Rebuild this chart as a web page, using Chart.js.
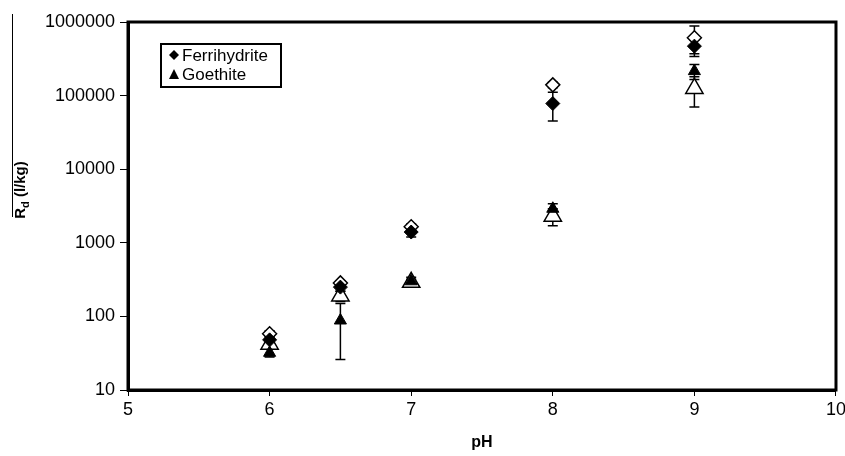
<!DOCTYPE html>
<html>
<head>
<meta charset="utf-8">
<script src="https://cdn.jsdelivr.net/npm/chart.js@4"></script>
<style>
  html, body { margin: 0; padding: 0; background: #fff; overflow: hidden; }
  canvas { display: block; }
</style>
</head>
<body>
<canvas id="chart" width="849" height="456"></canvas>
<script>
// pH values and Rd (l/kg) for each sorbent
const pH = [6, 6.5, 7, 8, 9];
const ferriFilled = [48, 250, 1400, 78000, 470000];
const ferriFilledErr = [6, 30, 200, 33000, 100000];
const ferriOpen = [58, 285, 1650, 140000, 610000];
const ferriOpenErr = [6, 20, 150, 12000, 270000];
const goeFilled = [32, 88, 300, 2900, 215000];
const goeFilledErr = [4, 62, 40, 500, 50000];
const goeOpen = [42, 190, 290, 2300, 125000];
const goeOpenErr = [5, 30, 30, 600, 55000];
const yTicks = [10, 100, 1000, 10000, 100000, 1000000];

const font = 'Arial, "Liberation Sans", sans-serif';

function pts(vals, errs) {
  return pH.map((x, i) => ({ x: x, y: vals[i], err: errs[i] }));
}

// vertical error bars with caps
const errorBars = {
  id: 'errorBars',
  beforeDatasetsDraw(chart) {
    const ctx = chart.ctx;
    const xs = chart.scales.x, ys = chart.scales.y;
    ctx.save();
    ctx.strokeStyle = '#000';
    ctx.lineWidth = 1.5;
    chart.data.datasets.forEach(ds => {
      ds.data.forEach(p => {
        if (!p.err) return;
        const px = xs.getPixelForValue(p.x);
        const top = ys.getPixelForValue(p.y + p.err);
        const bot = ys.getPixelForValue(Math.max(p.y - p.err, 1));
        ctx.beginPath();
        ctx.moveTo(px, top); ctx.lineTo(px, bot);
        ctx.moveTo(px - 5, top); ctx.lineTo(px + 5, top);
        ctx.moveTo(px - 5, bot); ctx.lineTo(px + 5, bot);
        ctx.stroke();
      });
    });
    ctx.restore();
  }
};

// frame, y title with subscript and the legend box
const decorations = {
  id: 'decorations',
  afterDraw(chart) {
    const ctx = chart.ctx;
    const a = chart.chartArea;
    ctx.save();
    ctx.strokeStyle = '#000';
    ctx.lineWidth = 3;
    ctx.strokeRect(a.left, a.top, a.right - a.left, a.bottom - a.top);

    // y axis title
    ctx.save();
    ctx.translate(25, 190);
    ctx.rotate(-Math.PI / 2);
    ctx.fillStyle = '#000';
    ctx.textBaseline = 'alphabetic';
    ctx.font = 'bold 15px ' + font;
    const w1 = ctx.measureText('R').width;
    ctx.font = 'bold 11px ' + font;
    const w2 = ctx.measureText('d').width;
    ctx.font = 'bold 15px ' + font;
    const w3 = ctx.measureText(' (l/kg)').width;
    let x0 = -(w1 + w2 + w3) / 2;
    ctx.fillText('R', x0, 0);
    ctx.font = 'bold 11px ' + font;
    ctx.fillText('d', x0 + w1, 4);
    ctx.font = 'bold 15px ' + font;
    ctx.fillText(' (l/kg)', x0 + w1 + w2, 0);
    ctx.restore();
    ctx.lineWidth = 1;
    ctx.beginPath();
    ctx.moveTo(12.5, 14); ctx.lineTo(12.5, 217);
    ctx.stroke();

    // legend
    ctx.lineWidth = 2;
    ctx.strokeRect(161, 44, 120, 43);
    ctx.fillStyle = '#000';
    ctx.font = '17px ' + font;
    ctx.textBaseline = 'middle';
    ctx.beginPath();
    ctx.moveTo(174, 50); ctx.lineTo(179, 55); ctx.lineTo(174, 60); ctx.lineTo(169, 55);
    ctx.closePath(); ctx.fill();
    ctx.fillText('Ferrihydrite', 182, 56);
    ctx.beginPath();
    ctx.moveTo(174, 69); ctx.lineTo(179, 79); ctx.lineTo(169, 79);
    ctx.closePath(); ctx.fill();
    ctx.fillText('Goethite', 182, 75);
    ctx.restore();
  }
};

new Chart(document.getElementById('chart'), {
  type: 'scatter',
  data: {
    // first dataset is painted last, so filled marks sit on top
    datasets: [
      { label: 'Ferrihydrite', data: pts(ferriFilled, ferriFilledErr), pointStyle: 'rectRot',
        pointRadius: 7, backgroundColor: '#000', borderColor: '#000', borderWidth: 1 },
      { label: 'Goethite', data: pts(goeFilled, goeFilledErr), pointStyle: 'triangle',
        pointRadius: 7, backgroundColor: '#000', borderColor: '#000', borderWidth: 1 },
      { label: 'Ferrihydrite (open)', data: pts(ferriOpen, ferriOpenErr), pointStyle: 'rectRot',
        pointRadius: 7, backgroundColor: '#fff', borderColor: '#000', borderWidth: 1.5 },
      { label: 'Goethite (open)', data: pts(goeOpen, goeOpenErr), pointStyle: 'triangle',
        pointRadius: 10, backgroundColor: '#fff', borderColor: '#000', borderWidth: 1.5 }
    ]
  },
  options: {
    responsive: false,
    animation: false,
    layout: { padding: { left: 0, right: 0, top: 22, bottom: 0 } },
    plugins: { legend: { display: false }, tooltip: { enabled: false } },
    scales: {
      x: {
        type: 'linear', min: 5, max: 10,
        ticks: { stepSize: 1, color: '#000', font: { family: font, size: 18 }, padding: 3 },
        grid: { drawOnChartArea: false, drawTicks: true, tickLength: 6, color: '#000' },
        border: { color: '#000', width: 3 },
        title: { display: true, text: 'pH', color: '#000', font: { family: font, size: 16, weight: 'bold' }, padding: { top: 3 } },
        afterFit(s) { s.height = 66; }
      },
      y: {
        type: 'logarithmic', min: 10, max: 1000000,
        afterBuildTicks(s) { s.ticks = yTicks.map(v => ({ value: v })); },
        ticks: { color: '#000', font: { family: font, size: 18 }, padding: 5, callback: v => String(v) },
        grid: { drawOnChartArea: false, drawTicks: true, tickLength: 8, color: '#000' },
        border: { color: '#000', width: 3 },
        afterFit(s) { s.width = 128; }
      }
    }
  },
  plugins: [errorBars, decorations]
});
</script>
</body>
</html>
